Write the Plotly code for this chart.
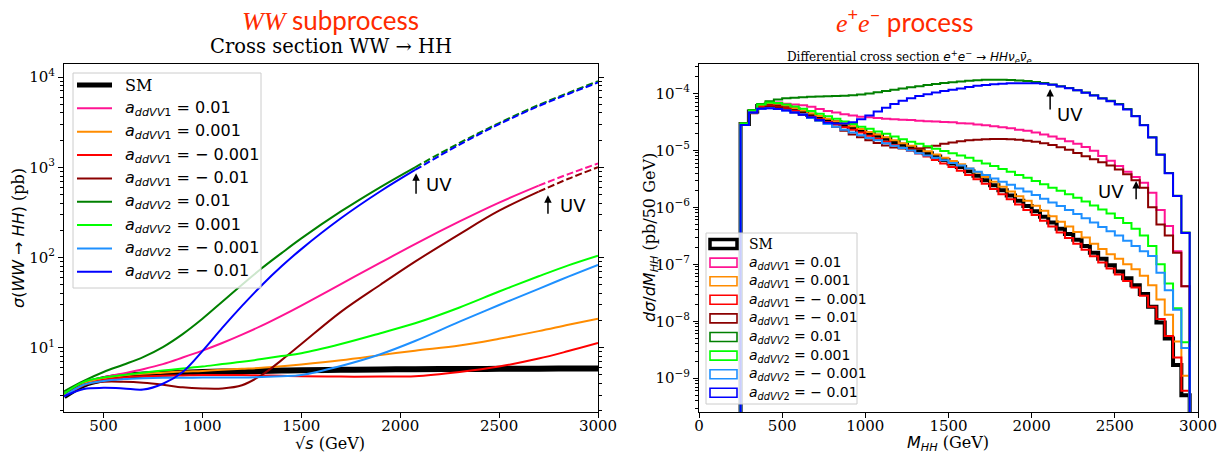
import numpy as np
import plotly.graph_objects as go

W, H = 1231, 461

# ---------------- WW -> HH cross section (pb) versus sqrt(s) (GeV)
sqrt_s = [300, 400, 500, 600, 700, 800, 900, 1000, 1100, 1200, 1300, 1400,
          1500, 1700, 1900, 2075, 2300, 2500, 2700, 2850, 3000]

sigma_sm      = [2.9, 3.9, 4.5, 4.85, 5.05, 5.2, 5.3, 5.4, 5.45, 5.5, 5.55, 5.6,
                 5.65, 5.7, 5.75, 5.8, 5.82, 5.85, 5.87, 5.9, 5.9]
sigma_v1_p01  = [3.0, 4.0, 4.7, 5.2, 5.8, 6.6, 7.8, 9.3, 11.3, 14.0, 17.6, 22.6,
                 29.4, 50.8, 87.8, 141, 251, 406, 626, 840, 1100]
sigma_v1_p001 = [3.0, 4.0, 4.6, 4.95, 5.15, 5.3, 5.45, 5.55, 5.7, 5.85, 6.0, 6.25,
                 6.55, 7.3, 8.3, 9.3, 10.6, 12.6, 15.3, 18, 21]
sigma_v1_m001 = [2.9, 3.85, 4.4, 4.7, 4.85, 4.9, 4.95, 5.0, 5.0, 5.0, 4.95, 4.9,
                 4.85, 4.8, 4.8, 4.85, 5.4, 6.2, 7.6, 9.2, 11.3]
sigma_v1_m01  = [3.1, 3.9, 4.2, 4.2, 4.1, 3.9, 3.65, 3.55, 3.55, 3.85, 5.0, 7.3,
                 11.0, 25, 50, 90, 182, 330, 537, 746, 1000]
sigma_v2_p01  = [3.3, 4.3, 5.4, 6.5, 7.9, 10.2, 14.2, 21, 32.4, 50, 76, 112,
                 163, 324, 604, 1000, 1860, 3090, 4900, 6680, 8970]
sigma_v2_p001 = [3.1, 4.2, 4.7, 5.0, 5.3, 5.6, 5.9, 6.2, 6.6, 7.0, 7.5, 8.1,
                 8.7, 11, 14.5, 18.7, 28, 42, 62, 82, 105]
sigma_v2_m001 = [2.9, 3.9, 4.3, 4.5, 4.6, 4.65, 4.65, 4.7, 4.7, 4.7, 4.75, 4.85,
                 5.0, 6.3, 8.5, 11.9, 19.5, 29.8, 45, 61.5, 83]
sigma_v2_m01  = [2.9, 3.5, 3.6, 3.55, 3.45, 4.0, 5.4, 9.2, 16.6, 29.1, 49.4, 80,
                 124, 272, 542, 934, 1784, 3000, 4760, 6490, 8700]

# sqrt(s) (GeV) above which the large-coupling curves are dashed (unitarity limit)
uv_limit_v1 = 2700
uv_limit_v2 = 2075

# ---------------- e+e- -> HH nu nu: dsigma/dM_HH (pb / 50 GeV), 50 GeV bins
mhh_edges = np.arange(250, 2951, 50)

dsig_sm = [2.9e-5, 4.8e-5, 6.0e-5, 6.3e-5, 6.2e-5, 5.8e-5, 5.2e-5, 4.7e-5, 4.2e-5, 3.8e-5,
           3.4e-5, 3.1e-5, 2.8e-5, 2.5e-5, 2.25e-5, 2.0e-5, 1.8e-5, 1.6e-5, 1.4e-5, 1.25e-5,
           1.12e-5, 1.0e-5, 8.9e-6, 7.8e-6, 6.8e-6, 5.9e-6, 5.1e-6, 4.3e-6, 3.6e-6, 3.0e-6,
           2.45e-6, 2.0e-6, 1.62e-6, 1.3e-6, 1.05e-6, 8.5e-7, 6.8e-7, 5.4e-7, 4.2e-7, 3.4e-7,
           2.7e-7, 2.1e-7, 1.6e-7, 1.25e-7, 9.6e-8, 7.5e-8, 5.7e-8, 4.3e-8, 3.0e-8, 1.8e-8,
           9.5e-9, 5.0e-9, 1.7e-9, 5.0e-10]
dsig_v1_p01 = [2.95e-5, 5.0e-5, 6.4e-5, 6.9e-5, 6.9e-5, 6.6e-5, 6.4e-5, 6.2e-5, 5.8e-5, 5.3e-5,
               4.9e-5, 4.6e-5, 4.3e-5, 4.1e-5, 3.9e-5, 3.8e-5, 3.7e-5, 3.6e-5, 3.5e-5, 3.45e-5,
               3.4e-5, 3.3e-5, 3.25e-5, 3.2e-5, 3.15e-5, 3.1e-5, 3.0e-5, 2.95e-5, 2.85e-5, 2.75e-5,
               2.65e-5, 2.55e-5, 2.45e-5, 2.3e-5, 2.2e-5, 2.05e-5, 1.9e-5, 1.75e-5, 1.6e-5, 1.45e-5,
               1.3e-5, 1.15e-5, 9.8e-6, 8.0e-6, 6.6e-6, 5.3e-6, 4.2e-6, 3.4e-6, 2.7e-6, 1.8e-6,
               9.0e-7, 4.7e-7, 1.7e-7, 4.1e-8]
dsig_v1_p001 = [2.95e-5, 5.0e-5, 6.3e-5, 6.7e-5, 6.6e-5, 6.1e-5, 5.5e-5, 5.0e-5, 4.45e-5, 4.0e-5,
                3.6e-5, 3.25e-5, 2.95e-5, 2.65e-5, 2.37e-5, 2.1e-5, 1.9e-5, 1.7e-5, 1.5e-5, 1.33e-5,
                1.2e-5, 1.08e-5, 9.6e-6, 8.5e-6, 7.4e-6, 6.5e-6, 5.7e-6, 4.8e-6, 4.1e-6, 3.4e-6,
                2.8e-6, 2.3e-6, 1.9e-6, 1.57e-6, 1.3e-6, 1.07e-6, 8.7e-7, 7.0e-7, 5.6e-7, 4.6e-7,
                3.7e-7, 2.95e-7, 2.3e-7, 1.85e-7, 1.5e-7, 1.25e-7, 1.0e-7, 8.2e-8, 6.3e-8, 4.3e-8,
                2.4e-8, 1.3e-8, 4.4e-9, 1.1e-9]
dsig_v1_m001 = [2.85e-5, 4.7e-5, 5.8e-5, 6.1e-5, 5.9e-5, 5.5e-5, 4.9e-5, 4.4e-5, 3.9e-5, 3.5e-5,
                3.15e-5, 2.85e-5, 2.55e-5, 2.3e-5, 2.05e-5, 1.8e-5, 1.6e-5, 1.42e-5, 1.24e-5, 1.1e-5,
                9.8e-6, 8.8e-6, 7.8e-6, 6.8e-6, 5.9e-6, 5.1e-6, 4.4e-6, 3.7e-6, 3.1e-6, 2.6e-6,
                2.1e-6, 1.7e-6, 1.38e-6, 1.12e-6, 9.0e-7, 7.3e-7, 5.8e-7, 4.6e-7, 3.6e-7, 2.9e-7,
                2.3e-7, 1.8e-7, 1.38e-7, 1.08e-7, 8.4e-8, 6.6e-8, 5.1e-8, 3.9e-8, 2.8e-8, 1.8e-8,
                1.1e-8, 5.5e-9, 2.3e-9, 6.0e-10]
dsig_v1_m01 = [2.8e-5, 4.5e-5, 5.5e-5, 5.9e-5, 5.7e-5, 5.2e-5, 4.6e-5, 4.2e-5, 3.7e-5, 3.3e-5,
               2.9e-5, 2.6e-5, 2.2e-5, 1.9e-5, 1.7e-5, 1.5e-5, 1.35e-5, 1.22e-5, 1.12e-5, 1.08e-5,
               1.07e-5, 1.08e-5, 1.12e-5, 1.2e-5, 1.3e-5, 1.38e-5, 1.45e-5, 1.5e-5, 1.54e-5, 1.57e-5,
               1.58e-5, 1.58e-5, 1.56e-5, 1.53e-5, 1.48e-5, 1.42e-5, 1.33e-5, 1.24e-5, 1.13e-5, 1.02e-5,
               9.0e-6, 7.9e-6, 7.0e-6, 6.2e-6, 5.4e-6, 4.6e-6, 3.8e-6, 3.0e-6, 2.2e-6, 1.0e-6,
               5.0e-7, 3.2e-7, 1.6e-7, 4.1e-8]
dsig_v2_p01 = [3.0e-5, 5.1e-5, 6.5e-5, 7.3e-5, 7.8e-5, 8.2e-5, 8.4e-5, 8.6e-5, 8.7e-5, 8.8e-5,
               8.9e-5, 9.0e-5, 9.1e-5, 9.3e-5, 9.6e-5, 1.0e-4, 1.05e-4, 1.1e-4, 1.16e-4, 1.22e-4,
               1.28e-4, 1.34e-4, 1.4e-4, 1.46e-4, 1.52e-4, 1.57e-4, 1.62e-4, 1.67e-4, 1.7e-4, 1.73e-4,
               1.74e-4, 1.74e-4, 1.72e-4, 1.69e-4, 1.65e-4, 1.59e-4, 1.52e-4, 1.43e-4, 1.33e-4, 1.24e-4,
               1.14e-4, 1.04e-4, 9.3e-5, 8.2e-5, 7.4e-5, 6.5e-5, 5.3e-5, 4.0e-5, 2.8e-5, 1.7e-5,
               8.5e-6, 4.0e-6, 1.6e-6, 3.6e-7]
dsig_v2_p001 = [2.95e-5, 5.0e-5, 6.4e-5, 6.9e-5, 6.8e-5, 6.4e-5, 5.9e-5, 5.4e-5, 4.9e-5, 4.4e-5,
                3.95e-5, 3.6e-5, 3.2e-5, 2.9e-5, 2.6e-5, 2.4e-5, 2.15e-5, 1.95e-5, 1.75e-5, 1.57e-5,
                1.42e-5, 1.3e-5, 1.18e-5, 1.07e-5, 9.7e-6, 8.9e-6, 8.1e-6, 7.4e-6, 6.6e-6, 5.9e-6,
                5.3e-6, 4.7e-6, 4.2e-6, 3.7e-6, 3.3e-6, 2.9e-6, 2.55e-6, 2.2e-6, 1.95e-6, 1.7e-6,
                1.48e-6, 1.27e-6, 1.08e-6, 9.2e-7, 7.8e-7, 6.5e-7, 5.3e-7, 4.2e-7, 3.2e-7, 2.1e-7,
                1.0e-7, 4.6e-8, 1.7e-8, 4.3e-9]
dsig_v2_m001 = [2.8e-5, 4.6e-5, 5.4e-5, 5.5e-5, 5.3e-5, 5.0e-5, 4.6e-5, 4.3e-5, 3.7e-5, 3.3e-5,
                2.9e-5, 2.6e-5, 2.3e-5, 2.05e-5, 1.85e-5, 1.65e-5, 1.5e-5, 1.33e-5, 1.2e-5, 1.1e-5,
                9.9e-6, 8.9e-6, 8.1e-6, 7.4e-6, 6.7e-6, 6.0e-6, 5.4e-6, 4.8e-6, 4.2e-6, 3.7e-6,
                3.2e-6, 2.8e-6, 2.5e-6, 2.15e-6, 1.9e-6, 1.65e-6, 1.42e-6, 1.22e-6, 1.05e-6, 9.0e-7,
                7.6e-7, 6.4e-7, 5.4e-7, 4.5e-7, 3.8e-7, 3.2e-7, 2.6e-7, 2.1e-7, 1.7e-7, 1.4e-7,
                7.1e-8, 3.5e-8, 1.6e-8, 3.4e-9]
dsig_v2_m01 = [2.8e-5, 4.6e-5, 5.4e-5, 5.5e-5, 5.3e-5, 5.0e-5, 4.6e-5, 4.2e-5, 3.8e-5, 3.4e-5,
               3.05e-5, 2.95e-5, 2.95e-5, 3.1e-5, 3.5e-5, 4.1e-5, 4.8e-5, 5.6e-5, 6.5e-5, 7.4e-5,
               8.2e-5, 9.0e-5, 9.7e-5, 1.04e-4, 1.1e-4, 1.16e-4, 1.22e-4, 1.3e-4, 1.36e-4, 1.41e-4,
               1.45e-4, 1.48e-4, 1.5e-4, 1.51e-4, 1.51e-4, 1.5e-4, 1.47e-4, 1.42e-4, 1.32e-4, 1.23e-4,
               1.13e-4, 1.03e-4, 9.2e-5, 8.1e-5, 7.3e-5, 6.4e-5, 5.2e-5, 3.95e-5, 2.75e-5, 1.68e-5,
               8.4e-6, 3.95e-6, 1.58e-6, 3.55e-7]

# ---------------- labels, colours and ticks
legend_labels = [
    "SM",
    "<i>a</i><sub><i>ddVV</i>1</sub> = 0.01",
    "<i>a</i><sub><i>ddVV</i>1</sub> = 0.001",
    "<i>a</i><sub><i>ddVV</i>1</sub> = − 0.001",
    "<i>a</i><sub><i>ddVV</i>1</sub> = − 0.01",
    "<i>a</i><sub><i>ddVV</i>2</sub> = 0.01",
    "<i>a</i><sub><i>ddVV</i>2</sub> = 0.001",
    "<i>a</i><sub><i>ddVV</i>2</sub> = − 0.001",
    "<i>a</i><sub><i>ddVV</i>2</sub> = − 0.01",
]
colors = ["#000000", "#ff1493", "#ff8c00", "#ff0000", "#8b0000",
          "#008000", "#00ff00", "#1e90ff", "#0000ff"]

sigma_curves = [sigma_sm, sigma_v1_p01, sigma_v1_p001, sigma_v1_m001, sigma_v1_m01,
                sigma_v2_p01, sigma_v2_p001, sigma_v2_m001, sigma_v2_m01]
uv_limits = [None, uv_limit_v1, None, None, uv_limit_v1,
             uv_limit_v2, None, None, uv_limit_v2]
dsig_hists = [dsig_sm, dsig_v1_p01, dsig_v1_p001, dsig_v1_m001, dsig_v1_m01,
              dsig_v2_p01, dsig_v2_p001, dsig_v2_m001, dsig_v2_m01]

left_x_ticks = [500, 1000, 1500, 2000, 2500, 3000]
left_y_ticks = [1e1, 1e2, 1e3, 1e4]
left_y_ticktext = ["10<sup>1</sup>", "10<sup>2</sup>", "10<sup>3</sup>", "10<sup>4</sup>"]
right_x_ticks = [0, 500, 1000, 1500, 2000, 2500, 3000]
right_y_ticks = [1e-9, 1e-8, 1e-7, 1e-6, 1e-5, 1e-4]
right_y_ticktext = ["10<sup>−9</sup>", "10<sup>−8</sup>", "10<sup>−7</sup>",
                    "10<sup>−6</sup>", "10<sup>−5</sup>", "10<sup>−4</sup>"]

HIST_FLOOR = 1e-12  # histogram outline drops to here (below the visible range)

SERIF = "DejaVu Serif"
SANS = "DejaVu Sans"


def fx(p):
    return p / W


def fy(p):
    return 1 - p / H


def log_minor(lo, hi):
    return [m * 10.0 ** e for e in range(lo, hi) for m in range(2, 10)]


fig = go.Figure()

# ---------------- left panel curves
for vals, col, lim, i in zip(sigma_curves, colors, uv_limits, range(9)):
    width = 6 if i == 0 else 2
    if lim is None:
        fig.add_trace(go.Scatter(x=sqrt_s, y=vals, mode="lines", xaxis="x", yaxis="y",
                                 line=dict(color=col, width=width, shape="spline"),
                                 showlegend=False, hoverinfo="skip"))
    else:
        solid_x = [s for s in sqrt_s if s <= lim]
        solid_y = [v for s, v in zip(sqrt_s, vals) if s <= lim]
        dash_x = [s for s in sqrt_s if s >= lim]
        dash_y = [v for s, v in zip(sqrt_s, vals) if s >= lim]
        fig.add_trace(go.Scatter(x=solid_x, y=solid_y, mode="lines", xaxis="x", yaxis="y",
                                 line=dict(color=col, width=width, shape="spline"),
                                 showlegend=False, hoverinfo="skip"))
        fig.add_trace(go.Scatter(x=dash_x, y=dash_y, mode="lines", xaxis="x", yaxis="y",
                                 line=dict(color=col, width=width, shape="spline",
                                           dash="7px,3px"),
                                 showlegend=False, hoverinfo="skip"))

# ---------------- right panel step histograms
step_x = [mhh_edges[0]] + list(mhh_edges[:-1]) + [mhh_edges[-1]]
for vals, col, i in zip(dsig_hists, colors, range(9)):
    width = 4 if i == 0 else 2
    fig.add_trace(go.Scatter(x=step_x, y=[HIST_FLOOR] + list(vals) + [HIST_FLOOR],
                             mode="lines", xaxis="x2", yaxis="y2",
                             line=dict(color=col, width=width, shape="hv"),
                             showlegend=False, hoverinfo="skip"))

axis_common = dict(showline=True, linecolor="black", linewidth=1, mirror=True,
                   ticks="outside", ticklen=5, tickwidth=1, tickcolor="black",
                   showgrid=False, zeroline=False, automargin=False,
                   tickfont=dict(family=SERIF, size=15, color="black"))

fig.update_layout(
    width=W, height=H,
    margin=dict(l=0, r=0, t=0, b=0, autoexpand=False),
    paper_bgcolor="white", plot_bgcolor="white",
    xaxis=dict(domain=[fx(64), fx(598)], range=[300, 3000], anchor="y",
               tickmode="array", tickvals=left_x_ticks, ticklabelstandoff=-5,
               **axis_common),
    yaxis=dict(domain=[fy(412), fy(64)], type="log", range=[0.289, 4.144], anchor="x",
               tickmode="array", tickvals=left_y_ticks, ticktext=left_y_ticktext,
               **{**axis_common, "mirror": "allticks"},
               minor=dict(ticks="outside", ticklen=3, tickwidth=1, tickcolor="black",
                          tickmode="array", tickvals=log_minor(0, 5))),
    xaxis2=dict(domain=[fx(699), fx(1198)], range=[0, 3000], anchor="y2",
                tickmode="array", tickvals=right_x_ticks, ticklabelstandoff=-5,
                **axis_common),
    yaxis2=dict(domain=[fy(412), fy(64)], type="log", range=[-9.593, -3.484], anchor="x2",
                tickmode="array", tickvals=right_y_ticks, ticktext=right_y_ticktext,
                **axis_common,
                minor=dict(ticks="outside", ticklen=3, tickwidth=1, tickcolor="black",
                           tickmode="array", tickvals=log_minor(-10, -3))),
)

shapes = []
annotations = []


def paper_text(x, y, text, family, size, color="black", angle=0, xanchor="center"):
    return dict(xref="paper", yref="paper", x=fx(x), y=fy(y), text=text,
                xanchor=xanchor, yanchor="middle", showarrow=False, textangle=angle,
                font=dict(family=family, size=size, color=color))


# ---------------- left legend
shapes.append(dict(type="rect", xref="paper", yref="paper", layer="above",
                   x0=fx(73), x1=fx(261), y0=fy(288), y1=fy(73),
                   fillcolor="rgba(255,255,255,0.8)", line=dict(color="#cccccc", width=1)))
for i, (lab, col) in enumerate(zip(legend_labels, colors)):
    yc = 85 + i * 23.35
    shapes.append(dict(type="line", xref="paper", yref="paper", layer="above",
                       x0=fx(77), x1=fx(112), y0=fy(yc), y1=fy(yc),
                       line=dict(color=col, width=5 if i == 0 else 2)))
    annotations.append(paper_text(123, yc, lab, SERIF if i == 0 else SANS, 16,
                                  xanchor="left"))

# ---------------- right legend
shapes.append(dict(type="rect", xref="paper", yref="paper", layer="above",
                   x0=fx(706), x1=fx(857), y0=fy(404), y1=fy(233),
                   fillcolor="rgba(255,255,255,0.8)", line=dict(color="#cccccc", width=1)))
for i, (lab, col) in enumerate(zip(legend_labels, colors)):
    yc = 244 + i * 18.6
    shapes.append(dict(type="rect", xref="paper", yref="paper", layer="above",
                       x0=fx(710), x1=fx(737), y0=fy(yc + 4.5), y1=fy(yc - 4.5),
                       fillcolor="rgba(0,0,0,0)",
                       line=dict(color=col, width=3.5 if i == 0 else 1.6)))
    annotations.append(paper_text(747, yc, lab, SERIF if i == 0 else SANS, 14,
                                  xanchor="left"))

# ---------------- UV markers
uv_left = [(2080, 860, 490, 2195, 650), (2747, 490, 295, 2872, 380)]
for xa, ytip, ytail, xt, yt in uv_left:
    annotations.append(dict(xref="x", yref="y", axref="x", ayref="y",
                            x=xa, y=np.log10(ytip), ax=xa, ay=np.log10(ytail),
                            showarrow=True, arrowhead=2, arrowsize=1, arrowwidth=1.5,
                            arrowcolor="black", text=""))
    annotations.append(dict(xref="x", yref="y", x=xt, y=np.log10(yt), text="UV",
                            xanchor="center", yanchor="middle", showarrow=False,
                            font=dict(family=SANS, size=18, color="black")))
uv_right = [(2111, 1.2e-4, 4.9e-5, 2228, 4.3e-5), (2628, 2.9e-6, 1.3e-6, 2478, 1.9e-6)]
for xa, ytip, ytail, xt, yt in uv_right:
    annotations.append(dict(xref="x2", yref="y2", axref="x2", ayref="y2",
                            x=xa, y=np.log10(ytip), ax=xa, ay=np.log10(ytail),
                            showarrow=True, arrowhead=2, arrowsize=1, arrowwidth=1.5,
                            arrowcolor="black", text=""))
    annotations.append(dict(xref="x2", yref="y2", x=xt, y=np.log10(yt), text="UV",
                            xanchor="center", yanchor="middle", showarrow=False,
                            font=dict(family=SANS, size=18, color="black")))

# ---------------- titles and axis titles
RED = "#ff2a00"
annotations += [
    paper_text(330, 20,
               "<span style='font-family:Liberation Serif'><i>WW</i></span> subprocess",
               "Lato", 26, RED),
    paper_text(905, 20,
               "<span style='font-family:Liberation Serif'><i>e</i></span><sup>+</sup>"
               "<span style='font-family:Liberation Serif'><i>e</i></span><sup>−</sup> process",
               "Lato", 26, RED),
    paper_text(331, 47, "Cross section WW → HH", SERIF, 19.5),
    paper_text(909, 57,
               "Differential cross section "
               "<span style='font-family:DejaVu Sans'><i>e</i><sup>+</sup><i>e</i><sup>−</sup>"
               " → <i>HHν</i><sub><i>e</i></sub><i>ν̄</i><sub><i>e</i></sub></span>",
               SERIF, 12),
    paper_text(330, 443,
               "<span style='font-family:DejaVu Sans'>√<i>s</i></span> (GeV)", SERIF, 16),
    paper_text(948, 443,
               "<span style='font-family:DejaVu Sans'><i>M</i><sub><i>HH</i></sub></span> (GeV)",
               SERIF, 16),
    paper_text(18, 238,
               "<span style='font-family:DejaVu Sans'><i>σ</i>(<i>WW</i> → <i>HH</i>)</span> (pb)",
               SERIF, 16, angle=-90),
    paper_text(650, 238,
               "<span style='font-family:DejaVu Sans'><i>dσ</i>/<i>dM</i><sub><i>HH</i></sub></span>"
               " (pb/50 GeV)", SERIF, 16, angle=-90),
]

fig.update_layout(shapes=shapes, annotations=annotations)
fig.write_html("out.html")
